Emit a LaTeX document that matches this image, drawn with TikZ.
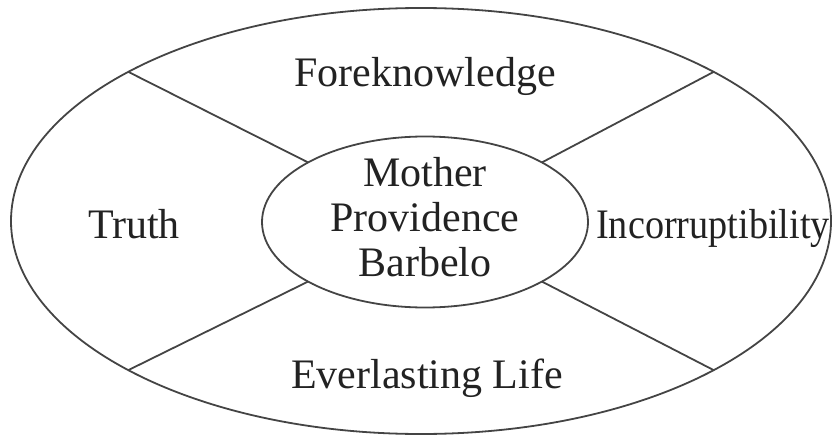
\documentclass[tikz,border=0pt]{standalone}
\usepackage{fontspec}
\usepackage{graphicx}
\setmainfont{Liberation Serif}
\usetikzlibrary{shapes.geometric}
\definecolor{linegray}{HTML}{444444}
\definecolor{textgray}{HTML}{222222}
\tikzset{
  ring/.style={ellipse, draw=linegray, line width=1.8pt, inner sep=0pt, outer sep=0pt},
  spoke/.style={draw=linegray, line width=1.8pt},
  lbl/.style={anchor=base, inner sep=0pt, text=textgray, font=\fontsize{42}{45}\selectfont}
}
\begin{document}
\begin{tikzpicture}[x=1pt,y=-1pt]
\useasboundingbox (0,0) rectangle (835,436);
\node[ring, minimum width=820pt, minimum height=426pt] (outer) at (421,221) {};
\node[ring, minimum width=326pt, minimum height=171pt] (inner) at (425,222) {};
\draw[spoke] (inner.153) -- (outer.153);
\draw[spoke] (inner.27) -- (outer.27);
\draw[spoke] (inner.207) -- (outer.207);
\draw[spoke] (inner.333) -- (outer.333);
\node[lbl] (m1) at (425,186) {Mother};
\node[lbl] (m2) at (425,231) {Providence};
\node[lbl] (m3) at (425,276) {Barbelo};
\node[lbl] (fore) at (425,86) {Foreknowledge};
\node[lbl] (truth) at (134,238) {Truth};
\node[lbl] (incorr) at (713,238) {\scalebox{0.91}[1]{Incorruptibility}};
\node[lbl] (ever) at (427,388) {Everlasting Life};
\end{tikzpicture}
\end{document}
